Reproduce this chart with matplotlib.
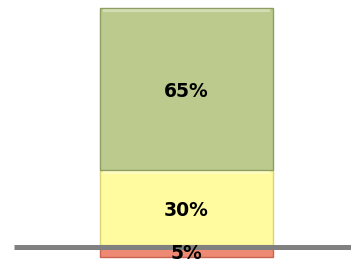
import matplotlib.pyplot as plt
import numpy as np

# stacked segments, bottom to top
labels = ['5%', '30%', '65%']
values = [5, 30, 65]
colors = ['#EE8A74', '#FFFB9E', '#BCCB8D']
edges = ['#C9644F', '#D8D47A', '#8E9E62']
line_level = 4.2

fig = plt.figure(figsize=(3.51, 2.63), dpi=100)
ax = fig.add_axes([0, 0, 1, 1])

bottom = 0
for lab, v, c, e in zip(labels, values, colors, edges):
    ax.bar(0, v, width=1, bottom=bottom, align='edge', color=c,
           edgecolor=e, linewidth=1.0, zorder=2)
    # soft highlight along the top of each block
    ax.bar(0.02, min(1.2, v * 0.3), width=0.96, bottom=bottom + v - min(1.6, v * 0.4),
           align='edge', color='white', alpha=0.35, linewidth=0, zorder=3)
    ax.text(0.5, bottom + v / 2 - 1.2, lab, ha='center', va='center',
            fontsize=13.5, fontweight='bold', family='DejaVu Sans',
            color='black', zorder=5)
    bottom += v

ax.plot([-0.497, 1.5], [line_level, line_level], color='#808080',
        linewidth=3.6, solid_capstyle='butt', zorder=4)

ax.set_xlim(-0.578, 1.451)
ax.set_ylim(-2.41, 103.2)
ax.axis('off')

fig.savefig('out.png', dpi=100)
